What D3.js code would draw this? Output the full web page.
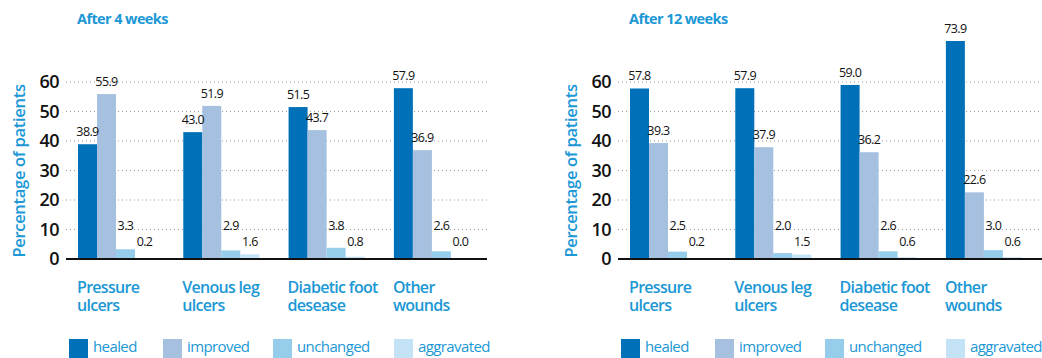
<!DOCTYPE html>
<html><head><meta charset="utf-8">
<script src="https://cdn.jsdelivr.net/npm/d3@7"></script>
<style>
html,body{margin:0;padding:0;background:#fff;}
svg{display:block;font-family:"Open Sans",sans-serif;}
</style></head>
<body>
<svg id="chart" width="1042" height="358"></svg>
<script>
const categories = [["Pressure","ulcers"],["Venous leg","ulcers"],["Diabetic foot","desease"],["Other","wounds"]];
const seriesNames = ["healed","improved","unchanged","aggravated"];
const titles = ["After 4 weeks","After 12 weeks"];
const yTicks = [0,10,20,30,40,50,60];

const healed4 = [38.9,43.0,51.5,57.9];
const improved4 = [55.9,51.9,43.7,36.9];
const unchanged4 = [3.3,2.9,3.8,2.6];
const aggravated4 = [0.2,1.6,0.8,0.0];

const healed12 = [57.8,57.9,59.0,73.9];
const improved12 = [39.3,37.9,36.2,22.6];
const unchanged12 = [2.5,2.0,2.6,3.0];
const aggravated12 = [0.2,1.5,0.6,0.6];

const colors = ["#0070b8","#a6c1e0","#95cdeb","#c5e3f6"];
const blue = "#1b98d5";
const labelFloor = [0,0,10,4.5];

const svg = d3.select("#chart");
const y = d3.scaleLinear().domain([0,60]).range([259,82]);

function panel(offset, title, series){
  const g = svg.append("g").attr("transform",`translate(${offset},0)`);
  const gridX0 = 66, gridX1 = 487;
  const x0 = d3.scaleBand().domain(d3.range(categories.length)).range([78, 78+3*105.3+76]).paddingInner(0.278).paddingOuter(0);
  const x1 = d3.scaleBand().domain(d3.range(seriesNames.length)).range([0, x0.bandwidth()]);

  g.append("text").attr("x",77).attr("y",24).attr("fill",blue)
    .attr("font-size",14.5).attr("font-weight",700).attr("letter-spacing",-0.6).text(title);

  // grid
  g.append("g").selectAll("line").data(yTicks.filter(d=>d>0)).join("line")
    .attr("x1",gridX0).attr("x2",gridX1).attr("y1",d=>y(d)).attr("y2",d=>y(d))
    .attr("stroke","#9a9a9a").attr("stroke-width",1).attr("stroke-dasharray","1,3");

  // y axis labels via d3 axis
  const ax = g.append("g").attr("transform",`translate(${gridX0},0)`)
    .call(d3.axisLeft(y).tickValues(yTicks).tickSize(0).tickPadding(7));
  ax.select(".domain").remove();
  ax.selectAll("text").attr("font-size",18).attr("font-weight",600).attr("fill","#111")
    .attr("font-family","'Open Sans',sans-serif").attr("letter-spacing",-0.5);

  g.append("text").attr("transform","translate(25,171) rotate(-90)").attr("text-anchor","middle")
    .attr("fill",blue).attr("font-size",16.5).attr("font-weight",600).attr("letter-spacing",-0.3)
    .text("Percentage of patients");

  // bars
  const groups = g.append("g").selectAll("g").data(categories.map((c,i)=>i)).join("g")
    .attr("transform",i=>`translate(${x0(i)},0)`);
  groups.selectAll("rect").data(i=>series.map((s,k)=>({k,v:s[i]}))).join("rect")
    .attr("x",d=>x1(d.k)).attr("width",x1.bandwidth())
    .attr("y",d=>y(d.v)).attr("height",d=>y(0)-y(d.v)).attr("fill",d=>colors[d.k]);
  groups.selectAll("text").data(i=>series.map((s,k)=>({k,v:s[i]}))).join("text")
    .attr("x",d=>x1(d.k)+x1.bandwidth()/2)
    .attr("y",d=>Math.min(y(d.v)-8, y(labelFloor[d.k])))
    .attr("text-anchor","middle").attr("font-size",12.5).attr("fill","#111").attr("letter-spacing",-0.6)
    .text(d=>d.v.toFixed(1));

  // baseline
  g.append("line").attr("x1",gridX0).attr("x2",gridX1+ (offset>0?10:0)).attr("y1",y(0)).attr("y2",y(0))
    .attr("stroke","#111").attr("stroke-width",2.2);

  // category labels (one text per line)
  const lines = [];
  categories.forEach((c,i)=>c.forEach((t,j)=>lines.push({i,j,t})));
  g.append("g").selectAll("text").data(lines).join("text")
    .attr("x",d=>x0(d.i)-1).attr("y",d=>293+d.j*18).attr("fill",blue)
    .attr("font-size",16).attr("font-weight",600).attr("letter-spacing",-0.7)
    .text(d=>d.t);

  // legend
  const legX = [69,163,273,394];
  const lg = g.append("g").selectAll("g").data(seriesNames).join("g")
    .attr("transform",(d,i)=>`translate(${legX[i]},339)`);
  lg.append("rect").attr("width",19).attr("height",19).attr("fill",(d,i)=>colors[i]);
  lg.append("text").attr("x",24).attr("y",13).attr("fill",blue).attr("font-size",15)
    .attr("letter-spacing",-0.6).text(d=>d);
}

panel(0, titles[0], [healed4,improved4,unchanged4,aggravated4]);
panel(552, titles[1], [healed12,improved12,unchanged12,aggravated12]);
</script>
</body></html>
